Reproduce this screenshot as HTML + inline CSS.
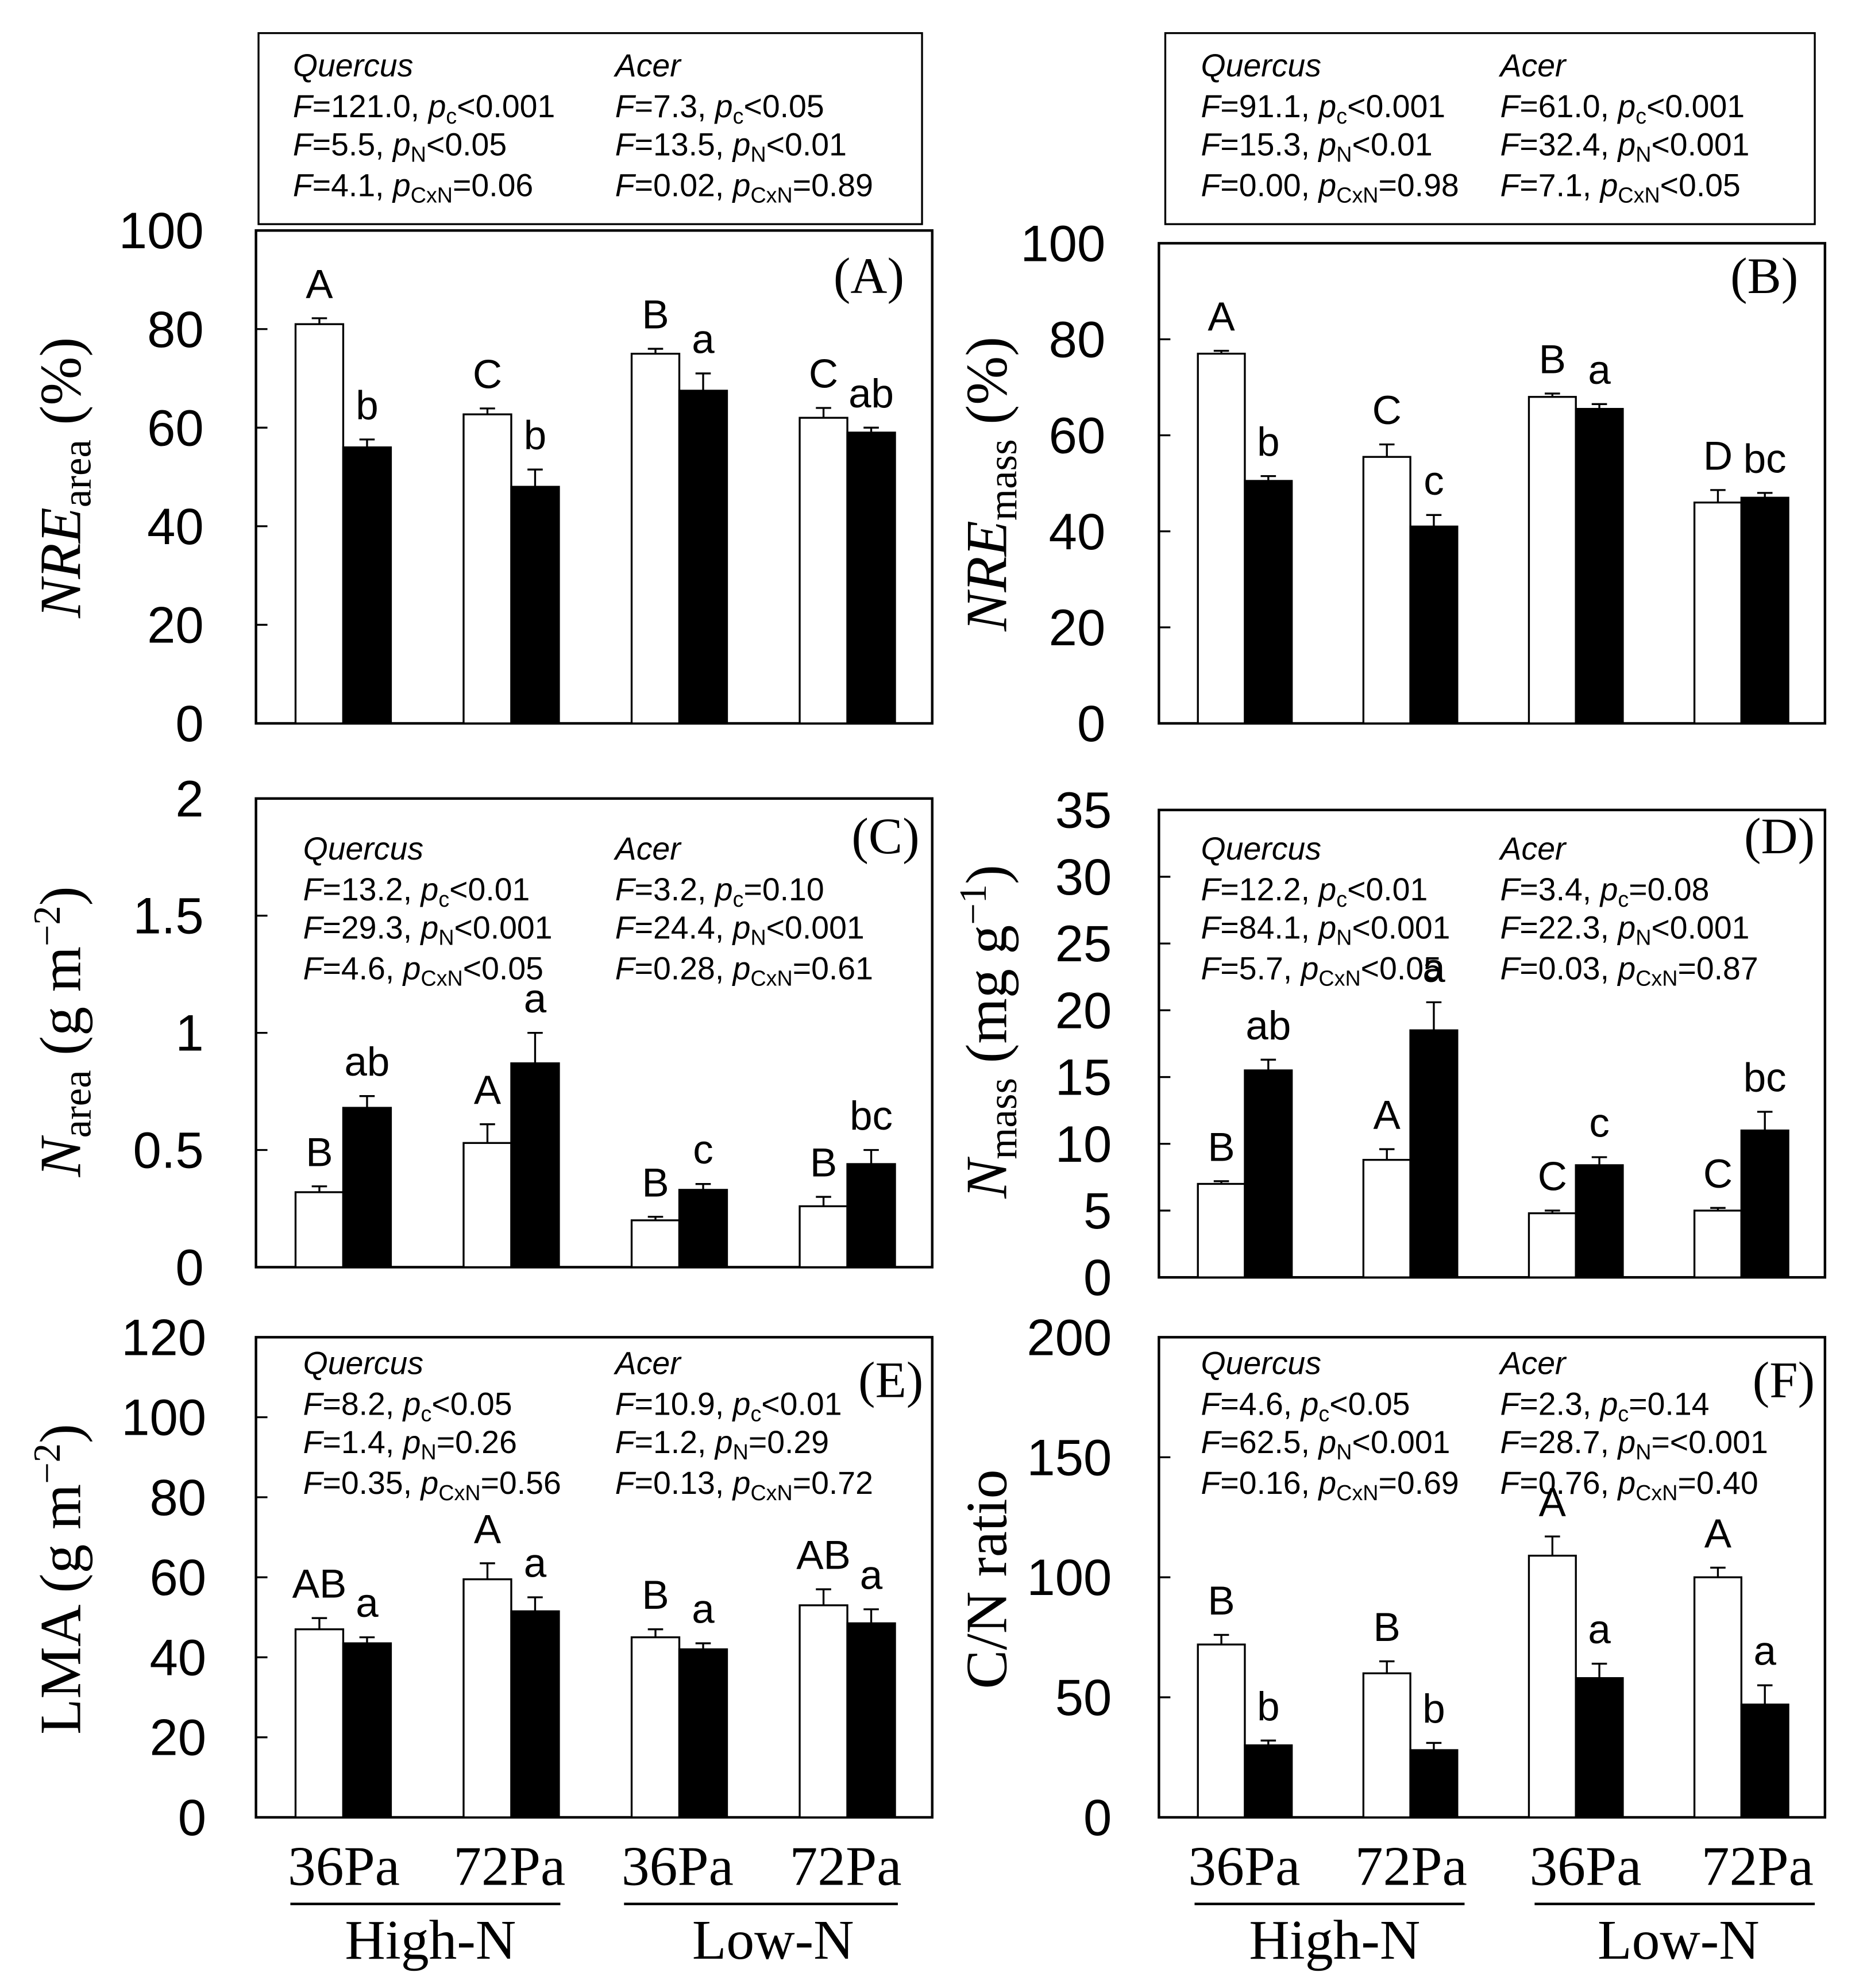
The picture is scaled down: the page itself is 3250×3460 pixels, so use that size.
<!DOCTYPE html>
<html><head><meta charset="utf-8">
<style>
html,body{margin:0;padding:0;background:#fff;}
svg{display:block;}
text{fill:#000;}
.sans{font-family:"Liberation Sans",sans-serif;}
.serif{font-family:"Liberation Serif",serif;}
</style></head>
<body>
<svg id="fig" width="3250" height="3460" viewBox="0 0 1466 1561" preserveAspectRatio="none" xmlns="http://www.w3.org/2000/svg">
</svg>
<script>
// ---- data (white = open bars, black = closed bars) ----
const groups = ["High-N 36Pa","High-N 72Pa","Low-N 36Pa","Low-N 72Pa"];
const aWhite = [81, 62.7, 75, 62];
const aWhiteErr = [1.2, 1.2, 1.0, 2.0];
const aBlack = [56, 48, 67.5, 59];
const aBlackErr = [1.6, 3.5, 3.5, 1.0];
const aWhiteLet = ["A","C","B","C"];
const aBlackLet = ["b","b","a","ab"];
const aTicks = [0,20,40,60,80,100];

const bWhite = [77, 55.5, 68, 46];
const bWhiteErr = [0.6, 2.6, 0.7, 2.6];
const bBlack = [50.5, 41, 65.5, 47];
const bBlackErr = [1.0, 2.4, 1.0, 1.0];
const bWhiteLet = ["A","C","B","D"];
const bBlackLet = ["b","c","a","bc"];
const bTicks = [0,20,40,60,80,100];

const cWhite = [0.32, 0.53, 0.2, 0.26];
const cWhiteErr = [0.025, 0.08, 0.015, 0.04];
const cBlack = [0.68, 0.87, 0.33, 0.44];
const cBlackErr = [0.05, 0.13, 0.025, 0.06];
const cWhiteLet = ["B","A","B","B"];
const cBlackLet = ["ab","a","c","bc"];
const cTicks = [0,0.5,1,1.5,2];

const dWhite = [7, 8.8, 4.8, 5];
const dWhiteErr = [0.2, 0.8, 0.2, 0.2];
const dBlack = [15.5, 18.5, 8.4, 11];
const dBlackErr = [0.8, 2.1, 0.6, 1.4];
const dWhiteLet = ["B","A","C","C"];
const dBlackLet = ["ab","a","c","bc"];
const dTicks = [0,5,10,15,20,25,30,35];

const eWhite = [47, 59.5, 45, 53];
const eWhiteErr = [2.8, 4.0, 2.0, 4.0];
const eBlack = [43.5, 51.5, 42, 48.5];
const eBlackErr = [1.5, 3.5, 1.5, 3.5];
const eWhiteLet = ["AB","A","B","AB"];
const eBlackLet = ["a","a","a","a"];
const eTicks = [0,20,40,60,80,100,120];

const fWhite = [72, 60, 109, 100];
const fWhiteErr = [4, 5, 8, 4];
const fBlack = [30, 28, 58, 47];
const fBlackErr = [2, 3, 6, 8];
const fWhiteLet = ["B","B","A","A"];
const fBlackLet = ["b","b","a","a"];
const fTicks = [0,50,100,150,200];

const NS = "http://www.w3.org/2000/svg";
const svg = document.getElementById("fig");
function mk(tag, attrs, parent){
  const e = document.createElementNS(NS, tag);
  for (const k in attrs) e.setAttribute(k, attrs[k]);
  (parent||svg).appendChild(e);
  return e;
}

function drawPanel(id, box, ticks, white, whiteErr, black, blackErr, wl, bl, tickLabelX){
  const g = mk("g", {});
  
  
  const min = ticks[0], max = ticks[ticks.length-1];
  const y = v => box.y1 - (v - min) / (max - min) * (box.y1 - box.y0);
  const frame = mk("rect", {x:box.x0, y:box.y0, width:box.x1-box.x0, height:box.y1-box.y0, fill:"none", stroke:"#000", "stroke-width":2}, g);
  
  
  ticks.forEach(t => {
    const ty = y(t);
    if (t !== min && t !== max) {
      const tk = mk("line", {x1:box.x0, x2:box.x0+9, y1:ty, y2:ty, stroke:"#000", "stroke-width":1.5}, g);
      
      
    }
    const lb = mk("text", {x:tickLabelX, y:ty+14, "text-anchor":"end", "font-size":40, class:"sans"}, g);
    lb.textContent = String(t);
    
    
  });
  const span = box.x1 - box.x0;
  const bw = span * 0.0705;
  for (let i = 0; i < white.length; i++) {
    const gx = box.x0 + span*0.0585 + i * span*0.2485;
    [[white, whiteErr, wl, "#fff", gx, 'white'], [black, blackErr, bl, "#000", gx+bw, 'black']].forEach(s => {
      const v = s[0][i], er = s[1][i], x = s[4];
      const r = mk("rect", {x:x, y:y(v), width:bw, height:y(min)-y(v), fill:s[3], stroke:"#000", "stroke-width":1.5}, g);
      
      
      const cx = x + bw/2;
      const eb = mk("path", {d:`M${cx},${y(v)} V${y(v+er)} M${cx-6},${y(v+er)} H${cx+6}`, stroke:"#000", "stroke-width":1.5, fill:"none"}, g);
      
      
      const lt = mk("text", {x:cx, y:y(v+er)-16, "text-anchor":"middle", "font-size":32, class:"sans"}, g);
      lt.textContent = s[2][i];
      
      
    });
  }
}

function stats(x, yq, lines){
  const g = mk("g", {"font-size":25, class:"sans"});
  
  
  const q = mk("text", {x:x, y:yq, "font-style":"italic"}, g);
  q.textContent = lines[0];
  const rows = [yq+32, yq+62, yq+94];
  const subs = ["c","N","CxN"];
  for (let r = 0; r < 3; r++) {
    const t = mk("text", {x:x, y:rows[r]}, g);
    t.innerHTML = `<tspan font-style="italic">F</tspan>=${lines[1][r][0]}, <tspan font-style="italic">p</tspan><tspan font-size="17" dy="5">${subs[r]}</tspan><tspan dy="-5">${lines[1][r][1]}</tspan>`;
  }
}

function panelLabel(txt, x, y){
  const t = mk("text", {x:x, y:y, "font-size":40, class:"serif", "text-anchor":"end"});
  t.textContent = txt;
  
  
}

function yTitle(html, cx, cy, name){
  const t = mk("text", {x:0, y:0, "font-size":46, class:"serif", "text-anchor":"middle", transform:`translate(${cx},${cy}) rotate(-90)`});
  t.innerHTML = html;
  
  
}

const sb1 = mk("rect",{x:203,y:26,width:521,height:150,fill:"none",stroke:"#000","stroke-width":1.5});


const sb2 = mk("rect",{x:915,y:26,width:510,height:150,fill:"none",stroke:"#000","stroke-width":1.5});



drawPanel("a", {x0:201,x1:732,y0:181,y1:568}, aTicks, aWhite, aWhiteErr, aBlack, aBlackErr, aWhiteLet, aBlackLet, 160);
drawPanel("b", {x0:910,x1:1433,y0:191,y1:568}, bTicks, bWhite, bWhiteErr, bBlack, bBlackErr, bWhiteLet, bBlackLet, 868);
drawPanel("c", {x0:201,x1:732,y0:627,y1:995}, cTicks, cWhite, cWhiteErr, cBlack, cBlackErr, cWhiteLet, cBlackLet, 160);
drawPanel("d", {x0:910,x1:1433,y0:636,y1:1003}, dTicks, dWhite, dWhiteErr, dBlack, dBlackErr, dWhiteLet, dBlackLet, 873);
drawPanel("e", {x0:201,x1:732,y0:1050,y1:1427}, eTicks, eWhite, eWhiteErr, eBlack, eBlackErr, eWhiteLet, eBlackLet, 162);
drawPanel("f", {x0:910,x1:1433,y0:1050,y1:1427}, fTicks, fWhite, fWhiteErr, fBlack, fBlackErr, fWhiteLet, fBlackLet, 873);

stats(230, 60, ["Quercus", [["121.0","<0.001"],["5.5","<0.05"],["4.1","=0.06"]]]);
stats(483, 60, ["Acer", [["7.3","<0.05"],["13.5","<0.01"],["0.02","=0.89"]]]);
stats(943, 60, ["Quercus", [["91.1","<0.001"],["15.3","<0.01"],["0.00","=0.98"]]]);
stats(1178, 60, ["Acer", [["61.0","<0.001"],["32.4","<0.001"],["7.1","<0.05"]]]);
stats(238, 675, ["Quercus", [["13.2","<0.01"],["29.3","<0.001"],["4.6","<0.05"]]]);
stats(483, 675, ["Acer", [["3.2","=0.10"],["24.4","<0.001"],["0.28","=0.61"]]]);
stats(943, 675, ["Quercus", [["12.2","<0.01"],["84.1","<0.001"],["5.7","<0.05"]]]);
stats(1178, 675, ["Acer", [["3.4","=0.08"],["22.3","<0.001"],["0.03","=0.87"]]]);
stats(238, 1079, ["Quercus", [["8.2","<0.05"],["1.4","=0.26"],["0.35","=0.56"]]]);
stats(483, 1079, ["Acer", [["10.9","<0.01"],["1.2","=0.29"],["0.13","=0.72"]]]);
stats(943, 1079, ["Quercus", [["4.6","<0.05"],["62.5","<0.001"],["0.16","=0.69"]]]);
stats(1178, 1079, ["Acer", [["2.3","=0.14"],["28.7","=<0.001"],["0.76","=0.40"]]]);

panelLabel("(A)", 710, 230);
panelLabel("(B)", 1412, 230);
panelLabel("(C)", 722, 670);
panelLabel("(D)", 1425, 670);
panelLabel("(E)", 725, 1097);
panelLabel("(F)", 1425, 1097);

yTitle('<tspan font-style="italic">NRE</tspan><tspan font-size="32" dy="8">area</tspan><tspan dy="-8"> (%)</tspan>', 63, 375, 'y-axis-title-a');
yTitle('<tspan font-style="italic">NRE</tspan><tspan font-size="32" dy="8">mass</tspan><tspan dy="-8"> (%)</tspan>', 790, 380, 'y-axis-title-b');
yTitle('<tspan font-style="italic">N</tspan><tspan font-size="32" dy="8">area</tspan><tspan dy="-8"> (g m</tspan><tspan font-size="30" dy="-16">−2</tspan><tspan dy="16">)</tspan>', 63, 810, 'y-axis-title-c');
yTitle('<tspan font-style="italic">N</tspan><tspan font-size="32" dy="8">mass</tspan><tspan dy="-8"> (mg g</tspan><tspan font-size="30" dy="-16">−1</tspan><tspan dy="16">)</tspan>', 790, 810, 'y-axis-title-d');
yTitle('LMA (g m<tspan font-size="30" dy="-16">−2</tspan><tspan dy="16">)</tspan>', 63, 1240, 'y-axis-title-e');
yTitle('C/N ratio', 790, 1240, 'y-axis-title-f');

function xLabels(xs, lines, groupsX){
  xs.forEach((x,i) => {
    const t = mk("text", {x:x, y:1480, "font-size":44, class:"serif", "text-anchor":"middle"});
    t.textContent = i % 2 === 0 ? "36Pa" : "72Pa";
    
    
  });
  lines.forEach(l => {
    const ln = mk("line", {x1:l[0], x2:l[1], y1:1495, y2:1495, stroke:"#000", "stroke-width":2});
    
    
  });
  groupsX.forEach((x,i) => {
    const t = mk("text", {x:x, y:1538, "font-size":44, class:"serif", "text-anchor":"middle"});
    t.textContent = i === 0 ? "High-N" : "Low-N";
    
    
  });
}
xLabels([270, 400, 532, 664], [[228,440],[490,705]], [338, 607]);
xLabels([977, 1108, 1245, 1380], [[938,1150],[1205,1425]], [1048, 1318]);
</script>
</body></html>
